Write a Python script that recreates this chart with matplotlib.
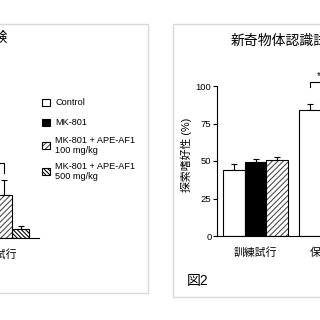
import matplotlib
matplotlib.use("Agg")
import matplotlib.pyplot as plt
from matplotlib.patches import Rectangle
import numpy as np

plt.rcParams['font.family'] = ['Liberation Sans', 'Noto Sans CJK JP', 'DejaVu Sans']

# ---------------- data ----------------
series = ["Control", "MK-801", "MK-801 + APE-AF1\n100 mg/kg", "MK-801 + APE-AF1\n500 mg/kg"]
# right panel: 新奇物体認識試験 (3 bars per trial)
right_groups = ["訓練試行", "保持試行"]
right_vals = [[44, 49.3, 50.7], [84, 50, 72]]
right_errs = [[4, 2, 2], [4, 3, 4]]
right_yticks = [0, 25, 50, 75, 100]
# left panel (only the end of the retention trial is visible)
left_groups = ["訓練試行", "保持試行"]
left_vals = [[20, 22, 21, 20], [60, 8, 28.7, 6]]
left_errs = [[3, 3, 3, 3], [6, 3, 10, 2]]

W, H = 320, 320
fig = plt.figure(figsize=(3.2, 3.2), dpi=100)
fig.patch.set_facecolor('white')

def fx(x):
    return x / W

def fy(y):
    return 1 - y / H

# panel boxes
for (x0, y0, x1, y1) in [(-10, 24, 148, 293), (173, 24, 340, 297)]:
    fig.patches.append(Rectangle((fx(x0), fy(y1)), fx(x1) - fx(x0), fy(y0) - fy(y1),
                                 transform=fig.transFigure, facecolor='white',
                                 edgecolor='#dadada', linewidth=1.0, zorder=-1))

styles = [
    dict(color='white', hatch=None, hcolor='black'),
    dict(color='black', hatch=None, hcolor='black'),
    dict(color='white', hatch='//////', hcolor='#444444'),
    dict(color='white', hatch='\\\\\\\\\\\\\\\\', hcolor='black'),
]

def draw_bars(ax, centers, vals, errs, width, n):
    for i in range(n):
        st = styles[i]
        x = centers + (i - (n - 1) / 2) * width
        v = [g[i] for g in vals]
        e = [g[i] for g in errs]
        ax.errorbar(x, v, yerr=[np.zeros(len(v)), e], fmt='none', ecolor='black',
                    elinewidth=0.8, capsize=2.2, capthick=0.8, zorder=1, clip_on=False)
        if st['hatch']:
            ax.bar(x, v, width, color='white', edgecolor=st['hcolor'], hatch=st['hatch'],
                   linewidth=0, zorder=2)
            ax.bar(x, v, width, fill=False, edgecolor='black', linewidth=0.8, zorder=3)
        else:
            ax.bar(x, v, width, color=st['color'], edgecolor='black', linewidth=0.8, zorder=2)

plt.rcParams['hatch.linewidth'] = 0.75

# ---------------- right panel ----------------
rx0, rx1, ry0, ry1 = 217, 400, 86, 236
axr = fig.add_axes([fx(rx0), fy(ry1), fx(rx1) - fx(rx0), fy(ry0) - fy(ry1)])
axr.set_zorder(5)
unit = 76.0
wr = 21.5 / unit
axr.set_xlim((rx0 - 255.5) / unit, (rx1 - 255.5) / unit)
axr.set_ylim(0, 100)
cr = np.arange(len(right_groups))
draw_bars(axr, cr, right_vals, right_errs, wr, 3)
for s in ['top', 'right']:
    axr.spines[s].set_visible(False)
axr.spines['left'].set_linewidth(0.8)
axr.spines['bottom'].set_linewidth(0.8)
axr.set_yticks(right_yticks)
axr.set_yticklabels([str(t) for t in right_yticks], fontsize=6.8)
axr.tick_params(axis='y', length=3, width=0.8, pad=1)
axr.set_xticks(cr)
axr.set_xticklabels(right_groups, fontsize=7.8)
axr.tick_params(axis='x', length=0, pad=8)
axr.patch.set_alpha(0)
# significance bracket
b0 = cr[1] - wr
b1 = cr[1]
axr.plot([b0, b0, b1, b1], [99.3, 102.7, 102.7, 99.3], color='black', lw=0.8, clip_on=False)
axr.text((b0 + b1) / 2, 103.0, "**", ha='center', va='bottom', fontsize=7)

# ---------------- left panel ----------------
lx0, lx1, ly0, ly1 = -150, 39, 88, 238
axl = fig.add_axes([fx(lx0), fy(ly1), fx(lx1) - fx(lx0), fy(ly0) - fy(ly1)])
axl.set_zorder(5)
lunit = 80.0
wl = 16.5 / lunit
axl.set_xlim(1 + (lx0 + 4.25) / lunit, 1 + (lx1 + 4.25) / lunit)
axl.set_ylim(0, 100)
cl = np.arange(len(left_groups))
draw_bars(axl, cl, left_vals, left_errs, wl, 4)
for s in ['top', 'right', 'left']:
    axl.spines[s].set_visible(False)
axl.spines['bottom'].set_linewidth(0.8)
axl.set_yticks([])
axl.set_xticks(cl)
axl.set_xticklabels(left_groups, fontsize=7.8)
axl.tick_params(axis='x', length=0, pad=8)
axl.patch.set_alpha(0)
lb0 = cl[1] - 1.5 * wl
lb1 = cl[1] + 0.5 * wl
axl.plot([lb0, lb0, lb1, lb1], [43.3, 50, 50, 43.3], color='black', lw=0.8, clip_on=False)
axl.text((lb0 + lb1) / 2, 50.5, "*", ha='center', va='bottom', fontsize=7)

# ---------------- titles / labels ----------------
fig.text(fx(8), fy(37.5), "受動回避試験", ha='right', va='center', fontsize=10)
fig.text(fx(231), fy(41), "新奇物体認識試験", ha='left', va='center', fontsize=10)
fig.text(fx(186), fy(155), "探索嗜好性 (%)", ha='center', va='center', rotation=90, fontsize=7.8)
fig.text(fx(187), fy(281), "図2", ha='left', va='center', fontsize=10)

# ---------------- legend ----------------
leg_y = [102.3, 122.3, 145.5, 171.5]
for i, (lab, yy) in enumerate(zip(series, leg_y)):
    st = styles[i]
    sx, sz = 42, 7.5
    rect_xy = (fx(sx), fy(yy + sz / 2))
    rw, rh = fx(sx + sz) - fx(sx), fy(yy - sz / 2) - fy(yy + sz / 2)
    if st['hatch']:
        fig.patches.append(Rectangle(rect_xy, rw, rh, transform=fig.transFigure,
                                     facecolor='white', edgecolor=st['hcolor'],
                                     hatch=st['hatch'], linewidth=0, zorder=2))
        fig.patches.append(Rectangle(rect_xy, rw, rh, transform=fig.transFigure,
                                     fill=False, edgecolor='black', linewidth=0.8, zorder=3))
    else:
        fig.patches.append(Rectangle(rect_xy, rw, rh, transform=fig.transFigure,
                                     facecolor=st['color'], edgecolor='black',
                                     linewidth=0.8, zorder=2))
    fig.text(fx(55), fy(yy), lab, ha='left', va='center', fontsize=6.6, linespacing=1.25)

fig.savefig("out.png", dpi=100, facecolor='white')
